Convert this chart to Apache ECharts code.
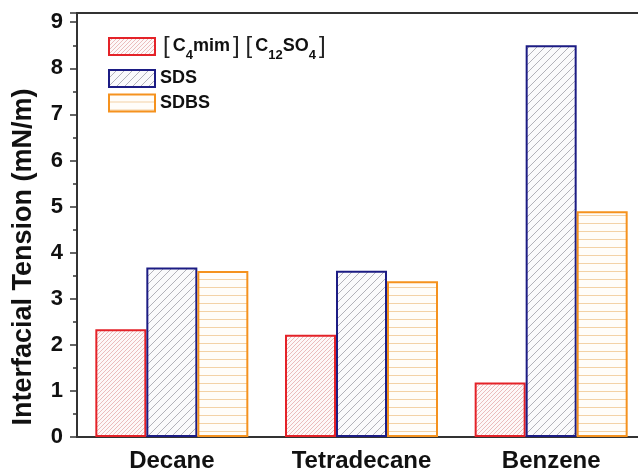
<!DOCTYPE html>
<html>
<head>
<meta charset="utf-8">
<script src="https://cdn.jsdelivr.net/npm/echarts@6/dist/echarts.min.js"></script>
<style>html,body{margin:0;padding:0;background:#fff}#c{width:638px;height:469px}</style>
</head>
<body>
<div id="c"></div>
<script>
var categories = ['Decane', 'Tetradecane', 'Benzene'];
var seriesNames = ['[C4mim][C12SO4]', 'SDS', 'SDBS'];
var ilValues = [2.34, 2.22, 1.18];
var sdsValues = [3.68, 3.61, 8.50];
var sdbsValues = [3.60, 3.38, 4.90];
var yTicks = [0, 1, 2, 3, 4, 5, 6, 7, 8, 9];

function makePattern(type, size, color, bg) {
  var c = document.createElement('canvas');
  c.width = size; c.height = size;
  var g = c.getContext('2d');
  g.fillStyle = bg; g.fillRect(0, 0, size, size);
  g.strokeStyle = color; g.lineWidth = 1;
  g.beginPath();
  if (type === 'diag') {
    g.moveTo(-1, size + 1); g.lineTo(size + 1, -1);
    g.moveTo(-1, 1); g.lineTo(1, -1);
    g.moveTo(size - 1, size + 1); g.lineTo(size + 1, size - 1);
  } else {
    g.moveTo(0, size - 0.5); g.lineTo(size, size - 0.5);
  }
  g.stroke();
  return { image: c, repeat: 'repeat' };
}
var redFill = makePattern('diag', 4, '#ebbcbc', '#fdf8f8');
var blueFill = makePattern('diag', 8, '#b2b2ba', '#fafafc');
var orangeFill = makePattern('horiz', 8, '#f3d2a6', '#fffdf9');

var font = 'Arial, "Liberation Sans", sans-serif';
var chart = echarts.init(document.getElementById('c'));
var legendBase = {
  orient: 'vertical', left: 108, itemWidth: 46, itemHeight: 17, itemGap: 8, padding: 0,
  selectedMode: false, icon: 'rect',
  textStyle: { fontFamily: font, fontSize: 18, fontWeight: 'bold', color: '#111', lineHeight: 17 }
};
chart.setOption({
  animation: false,
  backgroundColor: '#fff',
  grid: { left: 77, top: 13, width: 569, height: 424, outerBoundsMode: 'none', containLabel: false,
          show: true, borderColor: '#333', borderWidth: 2, backgroundColor: 'transparent' },
  legend: [
    Object.assign({}, legendBase, {
      top: 34.5, data: [seriesNames[0]],
      formatter: function () {
        return '{k|[}{b|C}{s|4}{b|mim}{k|]}{k|[}{b|C}{s|12}{b|SO}{s|4}{k|]}';
      },
      textStyle: {
        fontFamily: font, fontSize: 18, fontWeight: 'bold', color: '#111',
        rich: {
          b: { fontFamily: font, fontSize: 18, fontWeight: 'bold', color: '#111', lineHeight: 30 },
          k: { fontFamily: font, fontSize: 24, fontWeight: 'normal', color: '#222', lineHeight: 30, padding: [0, 3, 0, 3] },
          s: { fontFamily: font, fontSize: 13, fontWeight: 'bold', color: '#111', lineHeight: 11, verticalAlign: 'bottom' }
        }
      }
    }),
    Object.assign({}, legendBase, { top: 69, data: [seriesNames[1]] }),
    Object.assign({}, legendBase, { top: 93.5, data: [seriesNames[2]] })
  ],
  xAxis: {
    type: 'category', data: categories,
    axisLine: { lineStyle: { color: '#333', width: 2 } },
    axisTick: { show: false },
    axisLabel: { fontFamily: font, fontSize: 24, fontWeight: 'bold', color: '#111', margin: 12 }
  },
  yAxis: {
    type: 'value', min: 0, max: 9.2, interval: 1,
    name: 'Interfacial Tension (mN/m)', nameLocation: 'middle', nameGap: 40,
    nameTextStyle: { fontFamily: font, fontSize: 27, fontWeight: 'bold', color: '#111', padding: [0, 64, 0, 0] },
    axisLine: { show: true, lineStyle: { color: '#333', width: 2 } },
    axisTick: { show: true, length: 7, lineStyle: { color: '#333', width: 1.5 } },
    minorTick: { show: true, splitNumber: 2, length: 4, lineStyle: { color: '#333', width: 1.5 } },
    splitLine: { show: false },
    axisLabel: {
      fontFamily: font, fontSize: 22, fontWeight: 'bold', color: '#111', margin: 14,
      formatter: function (v) { return yTicks.indexOf(v) >= 0 ? String(v) : ''; }
    }
  },
  series: [
    { name: seriesNames[0], type: 'bar', data: ilValues, barWidth: 51, barGap: '0%',
      itemStyle: { color: redFill, borderColor: '#e42228', borderWidth: 2 } },
    { name: seriesNames[1], type: 'bar', data: sdsValues, barWidth: 51, barGap: '0%',
      itemStyle: { color: blueFill, borderColor: '#1c1c84', borderWidth: 2 } },
    { name: seriesNames[2], type: 'bar', data: sdbsValues, barWidth: 51, barGap: '0%',
      itemStyle: { color: orangeFill, borderColor: '#f5921e', borderWidth: 2 } }
  ]
});
</script>
</body>
</html>
